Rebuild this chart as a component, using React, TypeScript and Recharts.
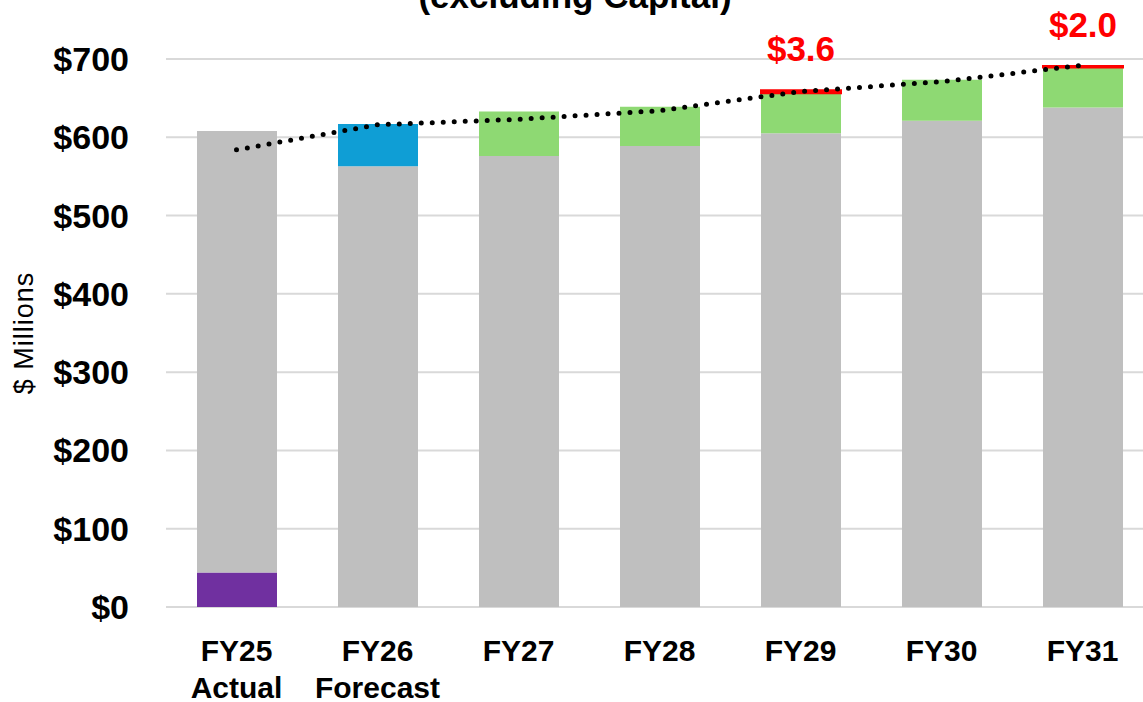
import { ComposedChart, Bar, Line, XAxis, YAxis, CartesianGrid, Cell, LabelList } from "recharts"

// ── Data ──────────────────────────────────────────────────────────────────

const years = ["FY25", "FY26", "FY27", "FY28", "FY29", "FY30", "FY31"]
const subLabels = ["Actual", "Forecast", "", "", "", "", ""]

const purpleVals = [44, 0, 0, 0, 0, 0, 0]
const baseVals = [564, 563, 576, 589, 605, 621, 638]
const blueVals = [0, 54, 0, 0, 0, 0, 0]
const greenVals = [0, 0, 57, 50, 51.4, 52.5, 51]
const redVals = [0, 0, 0, 0, 3.6, 0, 2.0]
const trendVals = [584, 616, 623, 634, 658.5, 671, 692]

const yTicks = [0, 100, 200, 300, 400, 500, 600, 700]

const COLORS = {
  base: "#bfbfbf",
  purple: "#7030a0",
  blue: "#0f9ed5",
  green: "#8ed973",
  red: "#ff0000",
  grid: "#d9d9d9",
}

const FONT = "'Liberation Sans', Arial, sans-serif"

const data = years.map((y, i) => ({
  year: y,
  sub: subLabels[i],
  purple: purpleVals[i],
  base: baseVals[i],
  blue: blueVals[i],
  green: greenVals[i],
  red: redVals[i],
  trend: trendVals[i],
}))

// ── Custom pieces ─────────────────────────────────────────────────────────

function XTick(props: any) {
  const { x, y, payload, index } = props
  const sub = subLabels[index] ?? ""
  return (
    <g>
      <text x={x} y={y + 46} textAnchor="middle" fontFamily={FONT} fontWeight="bold" fontSize={30} fill="#000">
        {payload.value}
      </text>
      {sub && (
        <text x={x} y={y + 83} textAnchor="middle" fontFamily={FONT} fontWeight="bold" fontSize={30} fill="#000">
          {sub}
        </text>
      )}
    </g>
  )
}

function RedLabel(props: any) {
  const { x, y, width, value } = props
  if (!value) return null
  return (
    <text x={x + width / 2} y={y - 29} textAnchor="middle" fontFamily={FONT} fontWeight="bold" fontSize={35} fill={COLORS.red}>
      ${Number(value).toFixed(1)}
    </text>
  )
}

// ── Main ──────────────────────────────────────────────────────────────────

export default function App() {
  return (
    <div style={{ position: "fixed", left: 0, top: 0, width: 1143, height: 702, overflow: "hidden", background: "#fff" }}>
      <ComposedChart
        width={1170}
        height={702}
        data={data}
        margin={{ top: 59, right: 17, bottom: 0, left: 0 }}
        barSize={80}
      >
        <CartesianGrid vertical={false} stroke={COLORS.grid} strokeWidth={2} />
        <XAxis
          dataKey="year"
          axisLine={false}
          tickLine={false}
          height={95}
          interval={0}
          tick={<XTick />}
        />
        <YAxis
          width={166}
          domain={[0, 700]}
          ticks={yTicks}
          axisLine={false}
          tickLine={false}
          tickMargin={31}
          tickFormatter={(v: number) => `$${v}`}
          tick={{ fill: "#000", fontSize: 34, fontWeight: "bold", fontFamily: FONT }}
          label={{
            content: () => (
              <text transform="translate(24,333) rotate(-90)" textAnchor="middle" dominantBaseline="central" fontFamily={FONT} fontSize={27} letterSpacing={1} fill="#000">
                $ Millions
              </text>
            ),
          }}
        />
        <Bar dataKey="purple" stackId="a" fill={COLORS.purple} isAnimationActive={false} />
        <Bar dataKey="base" stackId="a" fill={COLORS.base} isAnimationActive={false} />
        <Bar dataKey="blue" stackId="a" fill={COLORS.blue} isAnimationActive={false} />
        <Bar dataKey="green" stackId="a" fill={COLORS.green} isAnimationActive={false} />
        <Bar dataKey="red" stackId="a" fill={COLORS.red} isAnimationActive={false}>
          {data.map((d, i) => (
            <Cell key={i} stroke={d.red ? COLORS.red : "none"} strokeWidth={2} />
          ))}
          <LabelList dataKey="red" content={<RedLabel />} />
        </Bar>
        <Line
          type="linear"
          dataKey="trend"
          stroke="#000"
          strokeWidth={5}
          strokeDasharray="0 11"
          strokeLinecap="round"
          dot={false}
          activeDot={false}
          isAnimationActive={false}
        />
      </ComposedChart>
      <svg width={1143} height={40} style={{ position: "absolute", left: 0, top: 0 }}>
        <text x={575} y={8} textAnchor="middle" fontFamily={FONT} fontWeight="bold" fontSize={35} fill="#000">
          (excluding Capital)
        </text>
      </svg>
    </div>
  )
}
